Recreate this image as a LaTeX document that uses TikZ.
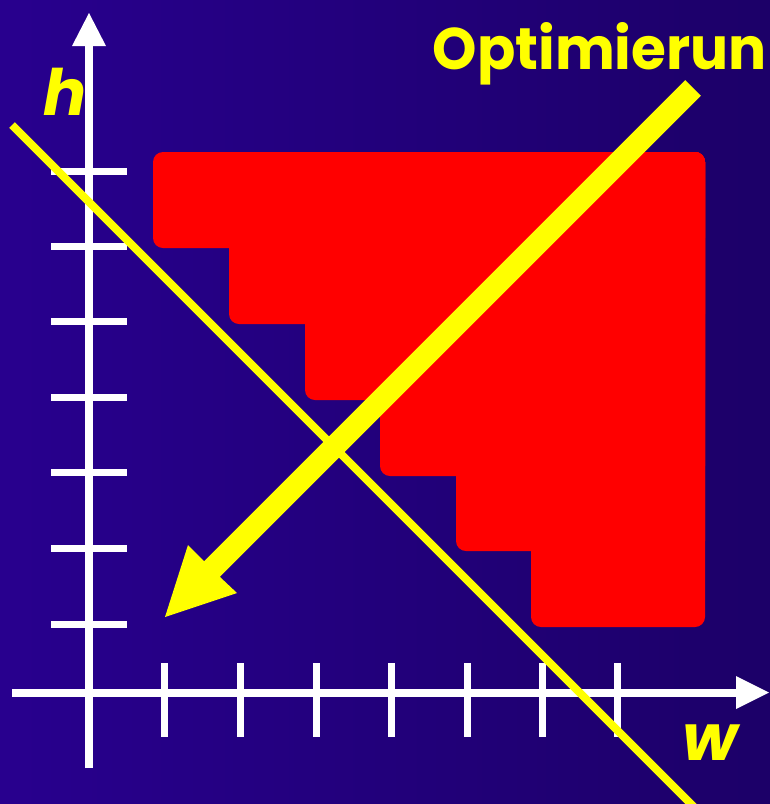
\documentclass[tikz,border=0pt]{standalone}
\usepackage{fontspec}
\usepackage{graphicx}
\newfontfamily\popfont{Poppins}
\definecolor{bgL}{RGB}{40,0,142}
\definecolor{bgR}{RGB}{28,0,104}
\definecolor{stairred}{RGB}{255,0,0}
\definecolor{hiyellow}{RGB}{255,255,0}
\tikzset{
  axisline/.style={white, line width=8pt},
  tickline/.style={white, line width=7pt},
  axishead/.style={fill=white},
  stairbox/.style={fill=stairred, rounded corners=10pt},
  labeltext/.style={text=hiyellow, inner sep=0pt, font=\popfont\bfseries\itshape\fontsize{64}{64}\selectfont},
  titletext/.style={text=hiyellow, inner sep=0pt, font=\popfont\bfseries\fontsize{64}{64}\selectfont}
}
\begin{document}
\begin{tikzpicture}[x=1pt,y=-1pt]
\useasboundingbox (0,0) rectangle (770,804);
\shade[left color=bgL, right color=bgR] (0,0) rectangle (770,804);
% staircase
\foreach \xa/\yb in {153/248,229/324,305/400,380/476,456/551,531/627}
  \fill[stairbox] (\xa,152) rectangle (705,\yb);
% axes
\draw[axisline] (89,768) -- (89,44);
\fill[axishead] (89,13) -- (106,46) -- (72,46) -- cycle;
\draw[axisline] (12,692.5) -- (738,692.5);
\fill[axishead] (769,692.5) -- (736,676) -- (736,709) -- cycle;
\foreach \ty in {171,246,321,397.5,472,548,624}
  \draw[tickline] (51,\ty) -- (127,\ty);
\foreach \tx in {164.5,240,316,391,467,542,617}
  \draw[tickline] (\tx,663) -- (\tx,737);
% diagonal line
\draw[hiyellow, line width=8pt] (12,125) -- (700,813);
% big arrow
\fill[hiyellow] (685.2,80.2) -- (700.8,95.8) -- (219.8,576.8) -- (237,593) -- (165,617) -- (188,545) -- (204.2,561.2) -- cycle;
% labels
\node[titletext, anchor=base east] (title) at (767,69) {\resizebox{334pt}{47pt}{Optimierun}};
\node[labeltext, anchor=base west] (hlabel) at (43,115) {h};
\node[labeltext, anchor=base west] (wlabel) at (682,760) {w};
\end{tikzpicture}
\end{document}
